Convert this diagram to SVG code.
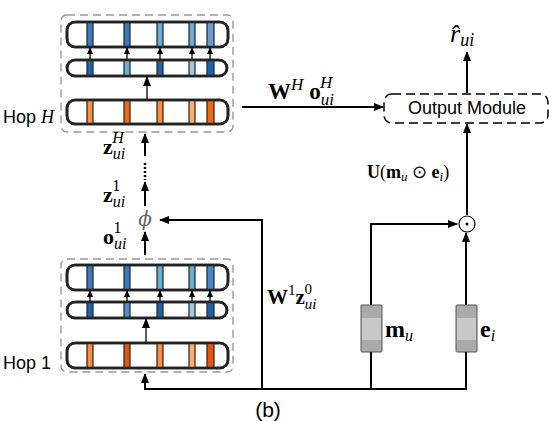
<svg xmlns="http://www.w3.org/2000/svg" width="552" height="421" viewBox="0 0 552 421">
<defs>
<marker id="ah" markerUnits="userSpaceOnUse" markerWidth="10" markerHeight="8" refX="9" refY="4" orient="auto"><path d="M0,0 L10,4 L0,8 Z" fill="#000"/></marker>
<marker id="ahs" markerUnits="userSpaceOnUse" markerWidth="7" markerHeight="6" refX="6" refY="3" orient="auto"><path d="M0,0 L7,3 L0,6 Z" fill="#000"/></marker>
</defs>
<style>
.bar{fill:#fff;stroke:#222;stroke-width:2.6}
.bo{fill:none;stroke:#222;stroke-width:2.6}
.st{stroke:#222;stroke-width:1.2}
.hop{fill:none;stroke:#999;stroke-width:1.4;stroke-dasharray:8 5}
.ln{fill:none;stroke:#000;stroke-width:2}
.sm{fill:none;stroke:#000;stroke-width:1.3}
.sans{font-family:"Liberation Sans",Arial,sans-serif}
.m{font-family:"Liberation Serif","Times New Roman",serif}
.b{font-weight:bold}
.i{font-style:italic}
.n{font-weight:normal}
.box{fill:#aaa;stroke:#555;stroke-width:1}
</style>
<rect width="552" height="421" fill="#fff"/>

<g id="hopH">
<rect class="hop" x="61" y="15" width="172" height="117" rx="6"/>
<rect class="bar" x="67" y="22" width="161" height="25" rx="8"/>
<rect class="st" x="87" y="22" width="6" height="25" fill="#3a7bbf"/>
<rect class="st" x="124" y="22" width="6" height="25" fill="#3a7bbf"/>
<rect class="st" x="157" y="22" width="6" height="25" fill="#6aaed6"/>
<rect class="st" x="189" y="22" width="6" height="25" fill="#6aaed6"/>
<rect class="st" x="207" y="22" width="7" height="25" fill="#6b9ccd"/>
<rect class="bo" x="67" y="22" width="161" height="25" rx="8"/>
<rect class="bar" x="67" y="60" width="160" height="16" rx="8"/>
<rect class="st" x="87" y="60" width="6" height="16" fill="#2163aa"/>
<rect class="st" x="124" y="60" width="6" height="16" fill="#6aaed6"/>
<rect class="st" x="157" y="60" width="6" height="16" fill="#2163aa"/>
<rect class="st" x="189" y="60" width="6" height="16" fill="#9ecae1"/>
<rect class="st" x="207" y="60" width="7" height="16" fill="#2163aa"/>
<rect class="bo" x="67" y="60" width="160" height="16" rx="8"/>
<rect class="bar" x="67" y="100" width="161" height="24" rx="8"/>
<rect class="st" x="87" y="100" width="6" height="24" fill="#fd8d3c"/>
<rect class="st" x="124" y="100" width="6" height="24" fill="#f16913"/>
<rect class="st" x="157" y="100" width="6" height="24" fill="#fd8d3c"/>
<rect class="st" x="189" y="100" width="6" height="24" fill="#fdae6b"/>
<rect class="st" x="207" y="100" width="7" height="24" fill="#f16913"/>
<rect class="bo" x="67" y="100" width="161" height="24" rx="8"/>
<line class="sm" x1="90" y1="59" x2="90" y2="48" marker-end="url(#ahs)"/>
<line class="sm" x1="127" y1="59" x2="127" y2="48" marker-end="url(#ahs)"/>
<line class="sm" x1="160" y1="59" x2="160" y2="48" marker-end="url(#ahs)"/>
<line class="sm" x1="192" y1="59" x2="192" y2="48" marker-end="url(#ahs)"/>
<line class="sm" x1="210" y1="59" x2="210" y2="48" marker-end="url(#ahs)"/>
<line class="sm" x1="147" y1="99" x2="147" y2="77" marker-end="url(#ah)"/>
<text class="sans" x="3" y="123" font-size="18">Hop <tspan class="m i">H</tspan></text>
</g>

<g id="hop1">
<rect class="hop" x="61" y="259" width="172" height="113" rx="6"/>
<rect class="bar" x="67" y="265" width="161" height="25" rx="8"/>
<rect class="st" x="87" y="265" width="6" height="25" fill="#3a7bbf"/>
<rect class="st" x="124" y="265" width="6" height="25" fill="#3a7bbf"/>
<rect class="st" x="157" y="265" width="6" height="25" fill="#6aaed6"/>
<rect class="st" x="189" y="265" width="6" height="25" fill="#6aaed6"/>
<rect class="st" x="207" y="265" width="7" height="25" fill="#4a86c4"/>
<rect class="bo" x="67" y="265" width="161" height="25" rx="8"/>
<rect class="bar" x="67" y="302" width="160" height="16" rx="8"/>
<rect class="st" x="87" y="302" width="6" height="16" fill="#2163aa"/>
<rect class="st" x="124" y="302" width="6" height="16" fill="#4a8fcc"/>
<rect class="st" x="157" y="302" width="6" height="16" fill="#2163aa"/>
<rect class="st" x="189" y="302" width="6" height="16" fill="#9ecae1"/>
<rect class="st" x="207" y="302" width="7" height="16" fill="#2163aa"/>
<rect class="bo" x="67" y="302" width="160" height="16" rx="8"/>
<rect class="bar" x="67" y="343" width="161" height="25" rx="8"/>
<rect class="st" x="87" y="343" width="6" height="25" fill="#fd8d3c"/>
<rect class="st" x="124" y="343" width="6" height="25" fill="#e6550d"/>
<rect class="st" x="157" y="343" width="6" height="25" fill="#fd8d3c"/>
<rect class="st" x="189" y="343" width="6" height="25" fill="#fdae6b"/>
<rect class="st" x="207" y="343" width="7" height="25" fill="#e6550d"/>
<rect class="bo" x="67" y="343" width="161" height="25" rx="8"/>
<line class="sm" x1="90" y1="301" x2="90" y2="291" marker-end="url(#ahs)"/>
<line class="sm" x1="127" y1="301" x2="127" y2="291" marker-end="url(#ahs)"/>
<line class="sm" x1="160" y1="301" x2="160" y2="291" marker-end="url(#ahs)"/>
<line class="sm" x1="192" y1="301" x2="192" y2="291" marker-end="url(#ahs)"/>
<line class="sm" x1="210" y1="301" x2="210" y2="291" marker-end="url(#ahs)"/>
<line class="sm" x1="146" y1="342" x2="146" y2="319" marker-end="url(#ah)"/>
<text class="sans" x="3" y="369" font-size="18">Hop 1</text>
</g>

<g id="phi">
<text x="145" y="226" font-family="'DejaVu Serif',serif" font-style="italic" font-size="20" fill="#666" text-anchor="middle">ϕ</text>
</g>

<g id="odot">
<circle cx="467" cy="224" r="8" fill="none" stroke="#000" stroke-width="1.2"/>
<circle cx="467" cy="224" r="1.5" fill="#000"/>
</g>

<g id="output">
<rect x="384" y="94" width="164" height="29" rx="8" fill="#fff" stroke="#000" stroke-width="1.5" stroke-dasharray="9 5"/>
<text class="sans" x="467" y="114" font-size="18" text-anchor="middle">Output Module</text>
</g>

<g id="mu">
<rect class="box" x="361" y="305" width="21" height="47" rx="1"/>
<rect x="362" y="318" width="19" height="22" fill="#c8c8c8"/>
<text class="m b" x="385" y="337" font-size="24">m<tspan class="i n" font-size="16" dy="4">u</tspan></text>
</g>

<g id="ei">
<rect class="box" x="456" y="305" width="21" height="47" rx="1"/>
<rect x="457" y="318" width="19" height="22" fill="#c8c8c8"/>
<text class="m b" x="480" y="337" font-size="24">e<tspan class="i n" font-size="16" dy="4">i</tspan></text>
</g>

<g id="rhat">
<text class="m i" x="450" y="42" font-size="26">r̂<tspan font-size="18" dy="4">ui</tspan></text>
</g>

<g id="connectors">
<line class="ln" x1="145" y1="156" x2="145" y2="134" marker-end="url(#ah)"/>
<line x1="145" y1="163" x2="145" y2="180" stroke="#000" stroke-width="2.5" stroke-dasharray="2 2"/>
<line class="ln" x1="145" y1="206" x2="145" y2="182" marker-end="url(#ah)"/>
<line class="ln" x1="145" y1="255" x2="145" y2="232" marker-end="url(#ah)"/>
<polyline class="ln" points="262,389 262,220 160,220" marker-end="url(#ah)"/>
<polyline class="ln" points="467,389 145,389 145,374" marker-end="url(#ah)"/>
<line class="ln" x1="242" y1="107" x2="383" y2="107" marker-end="url(#ah)"/>
<line class="ln" x1="467" y1="93" x2="467" y2="52" marker-end="url(#ah)"/>
<line class="ln" x1="467" y1="215" x2="467" y2="124" marker-end="url(#ah)"/>
<line class="ln" x1="371" y1="389" x2="371" y2="352"/>
<polyline class="ln" points="371,305 371,224 457,224" marker-end="url(#ah)"/>
<line class="ln" x1="466" y1="389" x2="466" y2="352"/>
<line class="ln" x1="466" y1="305" x2="466" y2="233" marker-end="url(#ah)"/>
</g>

<g id="labels">
<text class="m b" x="103" y="154" font-size="22">z<tspan class="i n" font-size="16" dy="5">ui</tspan><tspan class="i n" font-size="16" dx="-13" dy="-16">H</tspan></text>
<text class="m b" x="103" y="202" font-size="22">z<tspan class="i n" font-size="16" dy="5">ui</tspan><tspan class="n" font-size="16" dx="-13" dy="-16">1</tspan></text>
<text class="m b" x="103" y="244" font-size="22">o<tspan class="i n" font-size="16" dy="5">ui</tspan><tspan class="n" font-size="16" dx="-13" dy="-16">1</tspan></text>
<text class="m b" x="268" y="99" font-size="23">W<tspan class="i n" font-size="17" dy="-9">H</tspan><tspan dx="6" dy="9">o</tspan><tspan class="i n" font-size="17" dy="6">ui</tspan><tspan class="i n" font-size="17" dx="-14" dy="-17">H</tspan></text>
<text class="m b" x="267" y="304" font-size="21">W<tspan class="n" font-size="15" dy="-9">1</tspan><tspan dy="9">z</tspan><tspan class="i n" font-size="15" dy="5">ui</tspan><tspan class="n" font-size="15" dx="-12" dy="-15">0</tspan></text>
<text class="m b" x="367" y="178" font-size="18">U<tspan class="n">(</tspan>m<tspan class="i n" font-size="13" dy="3">u</tspan><tspan class="n" dy="-3"> ⊙ </tspan>e<tspan class="i n" font-size="13" dy="3">i</tspan><tspan class="n" dy="-3">)</tspan></text>
<text class="sans" x="268" y="417" font-size="21" text-anchor="middle">(b)</text>
</g>
</svg>
